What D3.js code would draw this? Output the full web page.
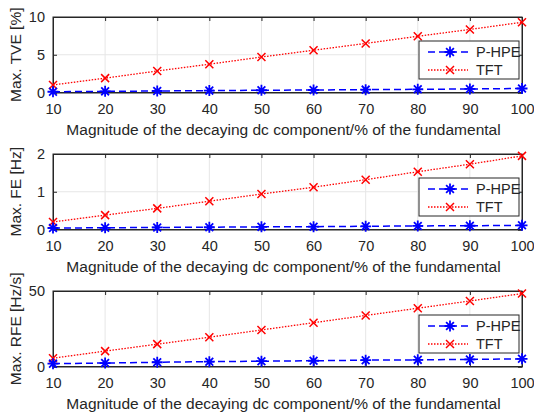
<!DOCTYPE html>
<html>
<head>
<meta charset="utf-8">
<script src="https://cdn.jsdelivr.net/npm/d3@7"></script>
<style>
  html, body { margin: 0; padding: 0; background: #fff; }
  svg { display: block; }
  text { font-family: "Liberation Sans", Arial, Helvetica, sans-serif; fill: #262626; }
</style>
</head>
<body>
<svg id="chart" width="534" height="415"></svg>
<script>
// Decaying dc component magnitude (% of fundamental)
const magnitudes = [10, 20, 30, 40, 50, 60, 70, 80, 90, 100];

// Max. TVE [%]
const tvePHPE = [0.1, 0.15, 0.2, 0.25, 0.3, 0.33, 0.38, 0.42, 0.47, 0.53];
const tveTFT  = [1.0, 1.9, 2.85, 3.75, 4.7, 5.6, 6.5, 7.45, 8.35, 9.3];

// Max. FE [Hz]
const fePHPE = [0.04, 0.045, 0.055, 0.06, 0.07, 0.075, 0.085, 0.095, 0.1, 0.11];
const feTFT  = [0.2, 0.38, 0.56, 0.75, 0.94, 1.12, 1.32, 1.53, 1.73, 1.95];

// Max. RFE [Hz/s]
const rfePHPE = [1.9, 2.3, 2.8, 3.2, 3.5, 3.8, 4.2, 4.4, 4.7, 5.1];
const rfeTFT  = [5.5, 10.2, 14.8, 19.4, 24.2, 29.0, 33.8, 38.6, 43.4, 48.3];

const xTicks = [10, 20, 30, 40, 50, 60, 70, 80, 90, 100];
const seriesNames = ["P-HPE", "TFT"];
const xLabel = "Magnitude of the decaying dc component/% of the fundamental";

const panels = [
  { ylabel: "Max. TVE [%]",   yMax: 10, yTicks: [0, 5, 10], phpe: tvePHPE, tft: tveTFT, top: 17 },
  { ylabel: "Max. FE [Hz]",   yMax: 2,  yTicks: [0, 1, 2],  phpe: fePHPE,  tft: feTFT,  top: 154 },
  { ylabel: "Max. RFE [Hz/s]", yMax: 50, yTicks: [0, 50],   phpe: rfePHPE, tft: rfeTFT, top: 291 }
];

const svg = d3.select("#chart");
const left = 53, right = 522, plotH = 75.5;
const axisColor = "#262626";
const gridColor = "#e6e6e6";
const blue = "#0000ff", red = "#ff0000";
const tickFont = 14.5, labelFont = 15.5, legendFont = 14.5;

const x = d3.scaleLinear().domain([10, 100]).range([left, right]);

function drawStar(g, cx, cy, r) {
  const p = d3.path();
  for (let k = 0; k < 4; k++) {
    const a = k * Math.PI / 4;
    const dx = r * Math.cos(a), dy = r * Math.sin(a);
    p.moveTo(cx - dx, cy - dy); p.lineTo(cx + dx, cy + dy);
  }
  g.append("path").attr("d", p.toString()).attr("stroke", blue).attr("stroke-width", 1.8).attr("fill", "none");
}
function drawX(g, cx, cy, r) {
  const p = d3.path();
  p.moveTo(cx - r, cy - r); p.lineTo(cx + r, cy + r);
  p.moveTo(cx - r, cy + r); p.lineTo(cx + r, cy - r);
  g.append("path").attr("d", p.toString()).attr("stroke", red).attr("stroke-width", 1.5).attr("fill", "none");
}

panels.forEach(pn => {
  const top = pn.top, bottom = top + plotH;
  const y = d3.scaleLinear().domain([0, pn.yMax]).range([bottom, top]);
  const g = svg.append("g");

  // grid
  g.selectAll(".vg").data(xTicks.slice(1, -1)).join("line")
    .attr("x1", d => x(d)).attr("x2", d => x(d)).attr("y1", top).attr("y2", bottom)
    .attr("stroke", gridColor).attr("stroke-width", 1);
  g.selectAll(".hg").data(pn.yTicks.slice(1, -1)).join("line")
    .attr("x1", left).attr("x2", right).attr("y1", d => y(d)).attr("y2", d => y(d))
    .attr("stroke", gridColor).attr("stroke-width", 1);

  // axes with inward ticks on all four sides
  const xAxis = d3.axisBottom(x).tickValues(xTicks).tickSize(-4).tickPadding(11).tickFormat(d3.format("d"));
  const xa = g.append("g").attr("transform", `translate(0,${bottom})`).call(xAxis);
  const xAxisTop = d3.axisTop(x).tickValues(xTicks).tickSize(-4).tickFormat("");
  const xt = g.append("g").attr("transform", `translate(0,${top})`).call(xAxisTop);
  const yAxis = d3.axisLeft(y).tickValues(pn.yTicks).tickSize(-4).tickPadding(8).tickFormat(d3.format("d"));
  const ya = g.append("g").attr("transform", `translate(${left},0)`).call(yAxis);
  const yAxisR = d3.axisRight(y).tickValues(pn.yTicks).tickSize(-4).tickFormat("");
  const yr = g.append("g").attr("transform", `translate(${right},0)`).call(yAxisR);
  [xa, xt, ya, yr].forEach(a => {
    a.attr("font-size", tickFont).attr("font-family", '"Liberation Sans", Arial, sans-serif');
    a.select(".domain").attr("stroke", axisColor).attr("stroke-width", 1);
    a.selectAll(".tick line").attr("stroke", axisColor).attr("stroke-width", 1);
    a.selectAll("text").attr("fill", axisColor);
  });
  // bordering box
  g.append("rect").attr("x", left).attr("y", top).attr("width", right - left).attr("height", plotH)
    .attr("fill", "none").attr("stroke", axisColor).attr("stroke-width", 1);

  // x label
  g.append("text").attr("x", (left + right) / 2 - 4).attr("y", bottom + 42)
    .attr("text-anchor", "middle").attr("font-size", labelFont).text(xLabel);
  // y label
  g.append("text").attr("transform", `translate(21,${(top + bottom) / 2}) rotate(-90)`)
    .attr("text-anchor", "middle").attr("font-size", labelFont).text(pn.ylabel);

  // series lines
  const line = d3.line().x((d, i) => x(magnitudes[i])).y(d => y(d));
  g.append("path").datum(pn.tft).attr("d", line).attr("fill", "none")
    .attr("stroke", red).attr("stroke-width", 1.3).attr("stroke-dasharray", "1.5,1.5");
  g.append("path").datum(pn.phpe).attr("d", line).attr("fill", "none")
    .attr("stroke", blue).attr("stroke-width", 1.5).attr("stroke-dasharray", "7,4");

  pn.tft.forEach((v, i) => drawX(g, x(magnitudes[i]), y(v), 4));
  pn.phpe.forEach((v, i) => drawStar(g, x(magnitudes[i]), y(v), 5.5));

  // legend
  const lx = 419, ly = top + 24, lw = 100, lh = 38;
  const lg = g.append("g");
  lg.append("rect").attr("x", lx).attr("y", ly).attr("width", lw).attr("height", lh)
    .attr("fill", "#fff").attr("stroke", axisColor).attr("stroke-width", 1);
  const r1 = ly + 11, r2 = ly + 29;
  lg.append("line").attr("x1", lx + 9).attr("x2", lx + 49).attr("y1", r1).attr("y2", r1)
    .attr("stroke", blue).attr("stroke-width", 1.5).attr("stroke-dasharray", "7,4");
  drawStar(lg, lx + 31, r1, 5.5);
  lg.append("line").attr("x1", lx + 9).attr("x2", lx + 49).attr("y1", r2).attr("y2", r2)
    .attr("stroke", red).attr("stroke-width", 1.3).attr("stroke-dasharray", "1.5,1.5");
  drawX(lg, lx + 31, r2, 4);
  lg.append("text").attr("x", lx + 57).attr("y", r1 + 5).attr("font-size", legendFont).text(seriesNames[0]);
  lg.append("text").attr("x", lx + 57).attr("y", r2 + 5).attr("font-size", legendFont).text(seriesNames[1]);
});
</script>
</body>
</html>
